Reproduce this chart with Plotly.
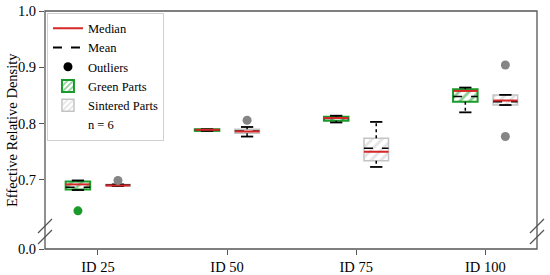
import plotly.graph_objects as go

categories = ["ID 25", "ID 50", "ID 75", "ID 100"]

# Green parts statistics
green_lower = [0.682, 0.787, 0.802, 0.820]
green_q1 = [0.683, 0.787, 0.805, 0.839]
green_median = [0.692, 0.789, 0.810, 0.858]
green_mean = [0.687, 0.789, 0.809, 0.848]
green_q3 = [0.697, 0.790, 0.812, 0.861]
green_upper = [0.699, 0.790, 0.814, 0.864]
green_outliers = [[0.645], [], [], []]

# Sintered parts statistics
sint_lower = [0.689, 0.777, 0.723, 0.833]
sint_q1 = [0.689, 0.783, 0.734, 0.833]
sint_median = [0.690, 0.786, 0.750, 0.841]
sint_mean = [0.691, 0.787, 0.756, 0.839]
sint_q3 = [0.692, 0.790, 0.774, 0.851]
sint_upper = [0.692, 0.794, 0.803, 0.851]
sint_outliers = [[0.699], [0.806], [], [0.904, 0.777]]

upper_ticks = [0.7, 0.8, 0.9, 1.0]
lower_ticks = [0.0]

GREEN = "#1a9a2a"
GRAY_EDGE = "#c4c4c4"
GRAY_PT = "#858585"
RED = "#d62728"
FONT = "Liberation Serif"

OFFSET = 0.155
WIDTH = 0.19

fig = go.Figure()


def add_group(lower, q1, med, mean, q3, upper, outliers, off, edge, fg, lw, ptcolor):
    xs = [i + off for i in range(len(categories))]
    fig.add_trace(go.Bar(
        x=xs, y=[b - a for a, b in zip(q1, q3)], base=q1, width=WIDTH,
        marker=dict(color="white", line=dict(color=edge, width=lw),
                    pattern=dict(shape="/", fgcolor=fg, bgcolor="white", size=7, solidity=0.4)),
        showlegend=False, hoverinfo="skip"))
    wx, wy = [], []
    cx, cy = [], []
    mx, my = [], []
    ax, ay = [], []
    for i, x in enumerate(xs):
        wx += [x, x, None, x, x, None]
        wy += [q3[i], upper[i], None, q1[i], lower[i], None]
        cx += [x - WIDTH / 4, x + WIDTH / 4, None, x - WIDTH / 4, x + WIDTH / 4, None]
        cy += [upper[i], upper[i], None, lower[i], lower[i], None]
        mx += [x - WIDTH / 2, x + WIDTH / 2, None]
        my += [med[i], med[i], None]
        ax += [x - WIDTH / 2, x + WIDTH / 2, None]
        ay += [mean[i], mean[i], None]
    fig.add_trace(go.Scatter(x=wx, y=wy, mode="lines", line=dict(color="black", width=1.5, dash="dot"),
                             showlegend=False, hoverinfo="skip"))
    fig.add_trace(go.Scatter(x=cx, y=cy, mode="lines", line=dict(color="black", width=1.8),
                             showlegend=False, hoverinfo="skip"))
    fig.add_trace(go.Scatter(x=ax, y=ay, mode="lines", line=dict(color="black", width=1.5, dash="dash"),
                             showlegend=False, hoverinfo="skip"))
    fig.add_trace(go.Scatter(x=mx, y=my, mode="lines", line=dict(color=RED, width=2),
                             showlegend=False, hoverinfo="skip"))
    ox, oy = [], []
    for i, x in enumerate(xs):
        for v in outliers[i]:
            ox.append(x)
            oy.append(v)
    fig.add_trace(go.Scatter(x=ox, y=oy, mode="markers", marker=dict(color=ptcolor, size=9),
                             showlegend=False, hoverinfo="skip"))


add_group(green_lower, green_q1, green_median, green_mean, green_q3, green_upper, green_outliers,
          -OFFSET, GREEN, GREEN, 2, GREEN)
add_group(sint_lower, sint_q1, sint_median, sint_mean, sint_q3, sint_upper, sint_outliers,
          OFFSET, GRAY_EDGE, "#c8c8c8", 1.5, GRAY_PT)

# legend entries
fig.add_trace(go.Scatter(x=[None], y=[None], mode="lines", line=dict(color=RED, width=2),
                         name="Median", legendrank=1))
fig.add_trace(go.Scatter(x=[None], y=[None], mode="lines", line=dict(color="black", width=2, dash="dash"),
                         name="Mean", legendrank=2))
fig.add_trace(go.Scatter(x=[None], y=[None], mode="markers", marker=dict(color="black", size=9),
                         name="Outliers", legendrank=3))
fig.add_trace(go.Bar(x=[None], y=[None], name="Green Parts", legendrank=4,
                     marker=dict(color="white", line=dict(color=GREEN, width=2),
                                 pattern=dict(shape="/", fgcolor=GREEN, bgcolor="white", size=5, solidity=0.4))))
fig.add_trace(go.Bar(x=[None], y=[None], name="Sintered Parts", legendrank=5,
                     marker=dict(color="white", line=dict(color=GRAY_EDGE, width=1.5),
                                 pattern=dict(shape="/", fgcolor="#c8c8c8", bgcolor="white", size=5, solidity=0.4))))
fig.add_trace(go.Scatter(x=[None], y=[None], mode="lines", line=dict(color="rgba(0,0,0,0)", width=0),
                         name="n = 6", legendrank=6))
fig.add_trace(go.Scatter(x=[None], y=[None], yaxis="y2", showlegend=False, hoverinfo="skip"))

break_frac = 18 / 238
AX = "#555555"

shapes = [dict(type="rect", xref="paper", yref="paper", x0=0, y0=0, x1=1, y1=1,
               line=dict(color=AX, width=1.3), fillcolor="rgba(0,0,0,0)")]
dx, dy = 7 / 492, 7 / 238
for xc in (0, 1):
    for yc in ((249 - 226) / 238, (249 - 237) / 238):
        shapes.append(dict(type="line", xref="paper", yref="paper",
                           x0=xc - dx, y0=yc - dy, x1=xc + dx, y1=yc + dy,
                           line=dict(color=AX, width=1.2)))

fig.update_layout(
    width=550, height=275,
    margin=dict(l=45, r=13, t=11, b=26),
    paper_bgcolor="white", plot_bgcolor="white",
    barmode="overlay",
    font=dict(family=FONT, size=14, color="black"),
    showlegend=True,
    legend=dict(x=0.004, y=0.993, xanchor="left", yanchor="top", traceorder="normal",
                bgcolor="white", bordercolor="#d0d0d0", borderwidth=1,
                font=dict(family=FONT, size=12.5), tracegroupgap=0),
    xaxis=dict(range=[-0.41, 3.40], tickvals=list(range(len(categories))), ticktext=categories,
               anchor="y2", showgrid=False, zeroline=False, showline=False, automargin=False,
               ticks="outside", ticklen=5, tickcolor=AX, tickfont=dict(size=14.5)),
    yaxis=dict(domain=[break_frac, 1], range=[1.0 - 220 / 563, 1.0], tickvals=upper_ticks,
               tickformat=".1f", showgrid=False, zeroline=False, showline=False, automargin=False,
               ticks="outside", ticklen=5, tickcolor=AX, tickfont=dict(size=14.5)),
    yaxis2=dict(domain=[0, break_frac], range=[0, 18 / 563], tickvals=lower_ticks,
                tickformat=".1f", showgrid=False, zeroline=False, showline=False, automargin=False,
                ticks="outside", ticklen=5, tickcolor=AX, tickfont=dict(size=14.5)),
    shapes=shapes,
    annotations=[dict(text="Effective Relative Density", xref="paper", yref="paper",
                      x=0, y=0.5, xshift=-33, textangle=-90, showarrow=False,
                      xanchor="center", yanchor="middle", font=dict(family=FONT, size=14.5))],
)

fig.write_html("out.html", config={"displayModeBar": False},
               post_script="document.body.style.margin='0';")
